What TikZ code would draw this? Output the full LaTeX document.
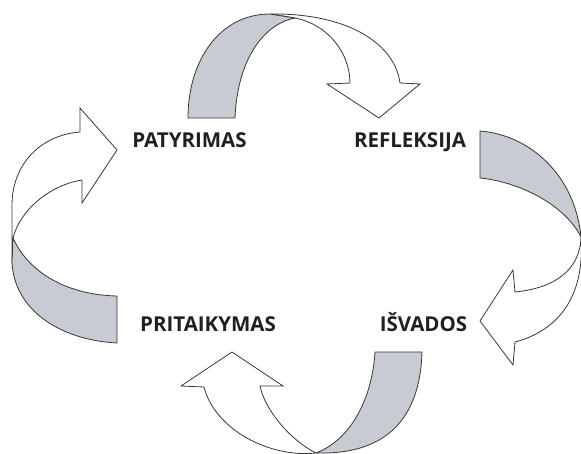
\documentclass[tikz,border=0pt]{standalone}
\usepackage{fontspec}
\newfontfamily\labelfont{Open Sans}
\definecolor{bandgray}{RGB}{200,203,210}
\definecolor{edge}{RGB}{55,55,55}
\definecolor{ink}{RGB}{35,31,32}
\tikzset{
  band/.style={fill=bandgray, draw=edge, line width=0.8pt, line join=round},
  face/.style={fill=white, draw=edge, line width=0.8pt, line join=miter},
  lbl/.style={font=\labelfont\bfseries\fontsize{20.5}{24}\selectfont, text=ink, inner sep=0pt, anchor=base}
}
\begin{document}
\begin{tikzpicture}[x=1pt,y=-1pt]
\useasboundingbox (0,0) rectangle (581,454);
\begin{scope}
\clip (0,0) rectangle (581,454);
% top arrow
\path[face] (270,14) .. controls (350,13) and (395,45) .. (400,83) -- (420,84) -- (379,118) -- (327,84) -- (350,83)
  .. controls (350,55) and (330,25) .. (295,18) -- cycle;
\path[band] (188,118) .. controls (188,60) and (220,14) .. (270,14) -- (295,18)
  .. controls (260,25) and (237,65) .. (235,118) -- cycle;
% right arrow
\path[face] (581,237) .. controls (580,270) and (555,288) .. (515,292) -- (513,270) -- (480,321) -- (513,365) -- (515,342)
  .. controls (560,330) and (585,295) .. (581,237) -- cycle;
\path[band] (480,131) .. controls (530,135) and (575,175) .. (581,237)
  .. controls (565,205) and (520,182) .. (480,178) -- cycle;
% bottom arrow
\path[face] (204,387) -- (181,386) -- (232,352) -- (283,386) -- (260,386)
  .. controls (265,410) and (290,440) .. (316,453)
  .. controls (270,458) and (215,430) .. (204,387) -- cycle;
\path[band] (375,352) -- (422,352) .. controls (420,420) and (385,455) .. (316,453)
  .. controls (350,440) and (372,400) .. (375,352) -- cycle;
% left arrow
\path[face] (12,262) -- (12,205) .. controls (12,165) and (40,135) .. (80,132) -- (80,108) -- (117,150) -- (82,203) -- (82,180)
  .. controls (50,185) and (20,210) .. (13,238) -- cycle;
\path[band] (117,296) -- (117,343) .. controls (60,340) and (14,310) .. (12,262) -- (13,238)
  .. controls (30,275) and (70,295) .. (117,296) -- cycle;
\end{scope}
% labels
\node[lbl] (patyrimas) at (189.5,148) {PATYRIMAS};
\node[lbl] (refleksija) at (410,148) {REFLEKSIJA};
\node[lbl] (pritaikymas) at (208,331) {PRITAIKYMAS};
\node[lbl] (isvados) at (423.5,331) {IŠVADOS};
\end{tikzpicture}
\end{document}
